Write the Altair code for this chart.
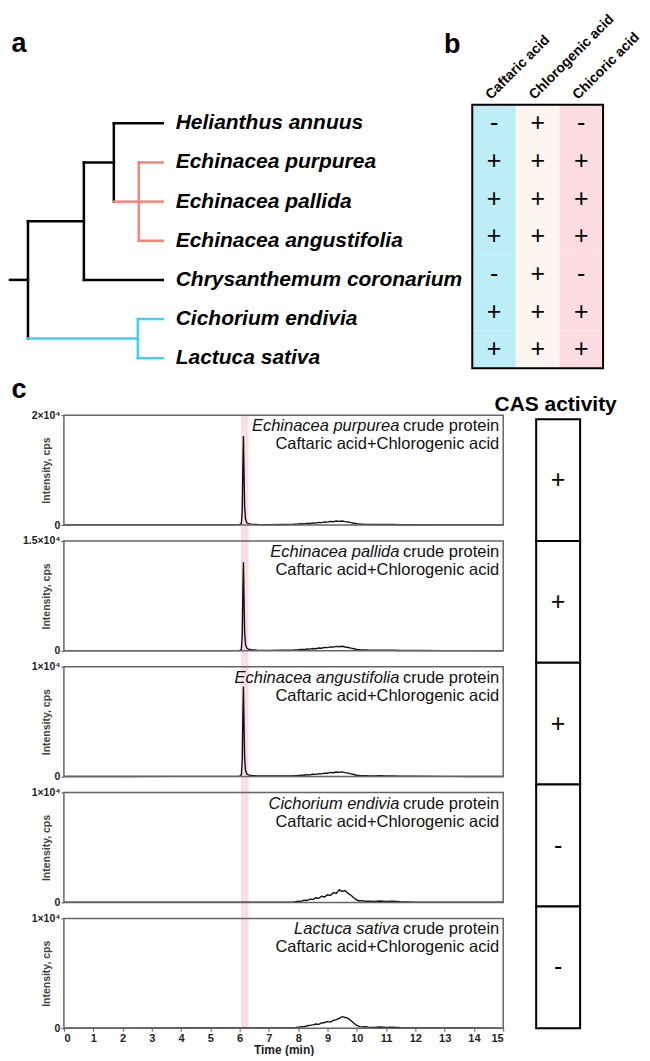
import altair as alt
import pandas as pd

FONT = "Liberation Sans"

# ---------------- a: phylogeny ----------------
species = ["Helianthus annuus", "Echinacea purpurea", "Echinacea pallida",
           "Echinacea angustifolia", "Chrysanthemum coronarium",
           "Cichorium endivia", "Lactuca sativa"]
leaf_clade = ["base", "echinacea", "echinacea", "echinacea", "base",
              "cichorieae", "cichorieae"]
node_names = ["E", "HE", "HEC", "CL", "R"]
node_depth = [138, 113, 83, 137, 27]
node_children = [[1, 2, 3], [0, "E"], ["HE", 4], [5, 6], ["HEC", "CL"]]
node_clade = ["echinacea", "base", "base", "cichorieae", "base"]
leaf_depth = 162
root_start = 9
clade_names = ["base", "echinacea", "cichorieae"]
clade_colors = ["#000000", "#F7837D", "#3DD2F2"]

# ---------------- b: metabolite table ----------------
acids = ["Caftaric acid", "Chlorogenic acid", "Chicoric acid"]
caftaric = ["-", "+", "+", "+", "-", "+", "+"]
chlorogenic = ["+", "+", "+", "+", "+", "+", "+"]
chicoric = ["-", "+", "+", "+", "-", "+", "+"]
acid_colors = ["#BDEEF8", "#FDF5EF", "#FDDDE1"]

# ---------------- c: chromatograms ----------------
time_min = [0, 2, 4, 5.9, 6.0, 6.06, 6.09, 6.11, 6.13, 6.15, 6.17, 6.2, 6.24, 6.3, 6.4, 6.6, 7.0, 7.5,
            7.8, 7.9, 8.0, 8.1, 8.2, 8.3, 8.4, 8.5, 8.6, 8.7, 8.8, 8.9, 9.0, 9.1, 9.2, 9.3, 9.4,
            9.5, 9.6, 9.7, 9.8, 9.9, 10.0, 10.1, 10.2, 10.3, 10.4,
            10.6, 10.8, 11.0, 11.2, 11.5, 12, 13, 14, 15]
int_purpurea = [20, 20, 30, 30, 60, 300, 2800, 10500, 16200, 9500, 3500, 1100, 450, 260, 160, 100, 70, 80,
                110, 150, 180, 230, 210, 300, 280, 380, 350, 470, 430, 560, 520, 650, 600, 720, 660,
                740, 620, 560, 430, 330, 220, 170, 140, 120, 110,
                100, 120, 80, 90, 60, 40, 30, 20, 20]
int_pallida = [20, 20, 30, 30, 50, 250, 2200, 8000, 12100, 7000, 2600, 900, 380, 220, 140, 90, 60, 70,
               90, 120, 150, 190, 170, 250, 230, 320, 290, 390, 360, 460, 430, 540, 500, 600, 560,
               620, 520, 460, 360, 280, 190, 150, 120, 110, 100,
               90, 100, 70, 80, 50, 35, 25, 20, 15]
int_angustifolia = [15, 15, 20, 20, 40, 180, 1500, 5500, 8200, 4800, 1800, 600, 260, 160, 100, 70, 50, 50,
                    60, 80, 100, 130, 120, 170, 160, 220, 200, 270, 250, 320, 300, 380, 350, 420, 390,
                    430, 360, 320, 250, 190, 130, 100, 90, 80, 70,
                    70, 80, 50, 60, 40, 30, 20, 15, 10]
int_endivia = [10, 10, 15, 15, 15, 15, 15, 15, 15, 15, 15, 15, 15, 15, 15, 15, 20, 20,
               20, 60, 120, 90, 200, 170, 300, 260, 420, 380, 560, 500, 700, 640, 900, 820, 1150,
               1000, 1080, 820, 650, 420, 220, 130, 160, 100, 120,
               90, 130, 80, 110, 60, 30, 20, 15, 10]
int_sativa = [10, 10, 15, 15, 15, 15, 15, 15, 15, 15, 15, 15, 15, 15, 15, 15, 20, 20,
              20, 50, 100, 140, 120, 220, 260, 300, 380, 350, 480, 520, 600, 560, 720, 780, 900,
              1050, 980, 900, 700, 450, 250, 150, 120, 140, 100,
              80, 110, 70, 90, 50, 30, 20, 15, 10]
panel_species = ["Echinacea purpurea", "Echinacea pallida", "Echinacea angustifolia",
                 "Cichorium endivia", "Lactuca sativa"]
panel_ymax = [20000, 15000, 10000, 10000, 10000]
panel_ylabel = ["2×10⁴", "1.5×10⁴", "1×10⁴", "1×10⁴", "1×10⁴"]
cas_activity = ["+", "+", "+", "-", "-"]
band_start, band_end = 6.05, 6.3
x_ticks = list(range(16))

# ---------------- layout constants ----------------
TREE_W, ROW1_H, TAB_W = 405, 264, 131
CH_W, CH_H, GAP_EXT = 440, 110, 8
CAS_W, CAS_H = 44, 614
NOSTROKE = alt.ViewBackground(stroke="transparent", strokeWidth=0)


def text_chart(txt, x, y, **kw):
    return alt.Chart(pd.DataFrame({"t": [txt]})).mark_text(font=FONT, **kw).encode(
        x=alt.value(x), y=alt.value(y), text="t:N")


# ---------------- tree ----------------
ypos = {i: float(i) for i in range(len(species))}
xpos = {i: leaf_depth for i in range(len(species))}
clade = {i: leaf_clade[i] for i in range(len(species))}
rows = []
for name, d, ch, cl in zip(node_names, node_depth, node_children, node_clade):
    ys = [ypos[c] for c in ch]
    ypos[name] = sum(ys) / len(ys)
    xpos[name] = d
    clade[name] = cl
    rows.append(dict(x=d, x2=d, y=min(ys), y2=max(ys), clade=cl))
    for c in ch:
        rows.append(dict(x=d, x2=xpos[c], y=ypos[c], y2=ypos[c], clade=clade[c]))
rows.append(dict(x=root_start, x2=node_depth[-1], y=ypos["R"], y2=ypos["R"], clade="base"))
seg_df = pd.DataFrame(rows)

tx = alt.Scale(domain=[63, 63 + TREE_W], nice=False, zero=False)
ty = alt.Scale(domain=[-0.477, 6.258], reverse=True, nice=False, zero=False)
segs = alt.Chart(seg_df).mark_rule(strokeWidth=2.5, strokeCap="square").encode(
    x=alt.X("x:Q", scale=tx, axis=None), x2="x2:Q",
    y=alt.Y("y:Q", scale=ty, axis=None), y2="y2:Q",
    stroke=alt.Stroke("clade:N", scale=alt.Scale(domain=clade_names, range=clade_colors),
                      legend=None))
lab_df = pd.DataFrame({"species": species, "y": list(range(len(species))),
                       "x": [leaf_depth + 13] * len(species)})
labs = alt.Chart(lab_df).mark_text(align="left", baseline="middle", font=FONT, fontSize=21,
                                   fontStyle="italic", fontWeight="bold", color="black").encode(
    x=alt.X("x:Q", scale=tx, axis=None), y=alt.Y("y:Q", scale=ty, axis=None), text="species:N")
letter_kw = dict(fontSize=27, fontWeight="bold", align="center", baseline="middle", color="black")
tree = alt.layer(
    segs, labs,
    text_chart("a", -45, -61, **letter_kw),
    text_chart("b", 389, -60, **letter_kw),
).properties(width=TREE_W, height=ROW1_H, view=NOSTROKE)

# ---------------- table ----------------
tab_rows = []
for i, sp in enumerate(species):
    for acid, col in zip(acids, [caftaric, chlorogenic, chicoric]):
        tab_rows.append(dict(species=sp, acid=acid, sign=col[i]))
tab_df = pd.DataFrame(tab_rows)
TX = alt.X("acid:N", sort=acids, scale=alt.Scale(paddingInner=0, paddingOuter=0),
           axis=alt.Axis(orient="top", title=None, labelAngle=315, labelAlign="left",
                         labelBaseline="middle", labelFont=FONT, labelFontSize=14,
                         labelFontWeight="bold", labelColor="black", ticks=False,
                         domain=False, labelPadding=8, labelOffset=-6, labelLimit=300))
TY = alt.Y("species:N", sort=species, scale=alt.Scale(paddingInner=0, paddingOuter=0), axis=None)
cells = alt.Chart(tab_df).mark_rect().encode(
    x=TX, y=TY,
    fill=alt.Fill("acid:N", scale=alt.Scale(domain=acids, range=acid_colors), legend=None))
signs = alt.Chart(tab_df).mark_text(font=FONT, fontSize=25, baseline="middle", color="black").encode(
    x=TX, y=TY, text="sign:N")
border = alt.Chart(pd.DataFrame({"t": [0]})).mark_rect(
    filled=False, color="black", strokeWidth=2).encode(
    x=alt.value(0), x2=alt.value("width"), y=alt.value(0), y2=alt.value("height"))
table = alt.layer(cells, signs, border).properties(width=TAB_W, height=ROW1_H, view=NOSTROKE)

row1 = alt.hconcat(tree, table, spacing=3).resolve_scale(fill="independent", stroke="independent")

# ---------------- chromatograms ----------------
traces = [int_purpurea, int_pallida, int_angustifolia, int_endivia, int_sativa]
panels = []
n = len(traces)
for k in range(n):
    last = k == n - 1
    ymax = panel_ymax[k]
    df = pd.DataFrame({"time": time_min, "intensity": traces[k]})
    if last:
        xaxis = alt.Axis(values=x_ticks, title="Time (min)", labelFont=FONT, labelFontSize=11,
                         labelFontWeight="bold", labelColor="#222", labelPadding=1, tickSize=3,
                         tickColor="#555", domain=False, grid=False, titleFont=FONT,
                         titleFontSize=12, titleFontWeight="bold", titleColor="#222",
                         titlePadding=1)
    else:
        xaxis = None
    X = alt.X("time:Q", scale=alt.Scale(domain=[0, 15], nice=False, zero=False), axis=xaxis)
    Y = alt.Y("intensity:Q", scale=alt.Scale(domain=[0, ymax], nice=False),
              axis=alt.Axis(values=[0, ymax],
                            labelExpr=f"datum.value === 0 ? '0' : '{panel_ylabel[k]}'",
                            labelFont=FONT, labelFontSize=10.5, labelFontWeight="bold",
                            labelColor="#222", labelPadding=1, tickSize=3, tickColor="#555",
                            domain=False, grid=False, title="Intensity, cps", titleFont=FONT,
                            titleFontSize=10.5, titleFontWeight="bold", titleColor="#444",
                            titleAngle=270, titleAlign="center", titleBaseline="bottom",
                            titleX=-12, titleY=CH_H / 2))
    top = 0 if k == 0 else -GAP_EXT
    bot = CH_H if last else CH_H + GAP_EXT
    band = alt.Chart(pd.DataFrame({"time": [band_start], "time2": [band_end]})).mark_rect(
        color="#FDDDE0").encode(x=X, x2="time2:Q", y=alt.value(top), y2=alt.value(bot))
    line = alt.Chart(df).mark_line(color="#111", strokeWidth=1.4).encode(x=X, y=Y)
    frame = alt.Chart(pd.DataFrame({"t": [0]})).mark_rect(
        filled=False, color="#666", strokeWidth=1.5).encode(
        x=alt.value(0), x2=alt.value("width"), y=alt.value(0), y2=alt.value("height"))
    tk = dict(fontSize=16.5, baseline="middle", align="right", color="#111")
    layers = [band, line, frame,
              text_chart(panel_species[k], 336, 11, fontStyle="italic", **tk),
              text_chart("crude protein", 436, 11, **tk),
              text_chart("Caftaric acid+Chlorogenic acid", 436, 29, **tk)]
    if k == 0:
        layers.append(text_chart("c", -45, -25, **letter_kw))
    panels.append(alt.layer(*layers).properties(width=CH_W, height=CH_H, view=NOSTROKE))

chromstack = alt.vconcat(*panels, spacing=0)

# ---------------- CAS activity ----------------
cas_df = pd.DataFrame({"k": list(range(len(cas_activity))),
                       "k2": [i + 1 for i in range(len(cas_activity))],
                       "mid": [i + 0.5 for i in range(len(cas_activity))],
                       "sign": cas_activity})
cy = alt.Scale(domain=[-0.033, 5], reverse=True, nice=False, zero=False)
cas_cells = alt.Chart(cas_df).mark_rect(fill="white", stroke="black", strokeWidth=2).encode(
    x=alt.value(0), x2=alt.value("width"), y=alt.Y("k:Q", scale=cy, axis=None), y2="k2:Q")
cas_signs = alt.Chart(cas_df).mark_text(font=FONT, fontSize=25, baseline="middle", color="black").encode(
    x=alt.value(CAS_W / 2), y=alt.Y("mid:Q", scale=cy, axis=None), text="sign:N")
cas = alt.layer(
    cas_cells, cas_signs,
    text_chart("CAS activity", 19.5, -4, fontSize=21, fontWeight="bold", align="center",
               baseline="alphabetic", color="black"),
).properties(width=CAS_W, height=CAS_H, view=NOSTROKE)

row2 = alt.hconcat(chromstack, cas, spacing=-12)

chart = alt.vconcat(row1, row2, spacing=7).resolve_scale(
    fill="independent", stroke="independent").properties(
    padding={"left": 0, "top": 2, "right": 0, "bottom": 0}, background="white")

chart.save("out.html", embed_options={"renderer": "svg", "actions": False})
